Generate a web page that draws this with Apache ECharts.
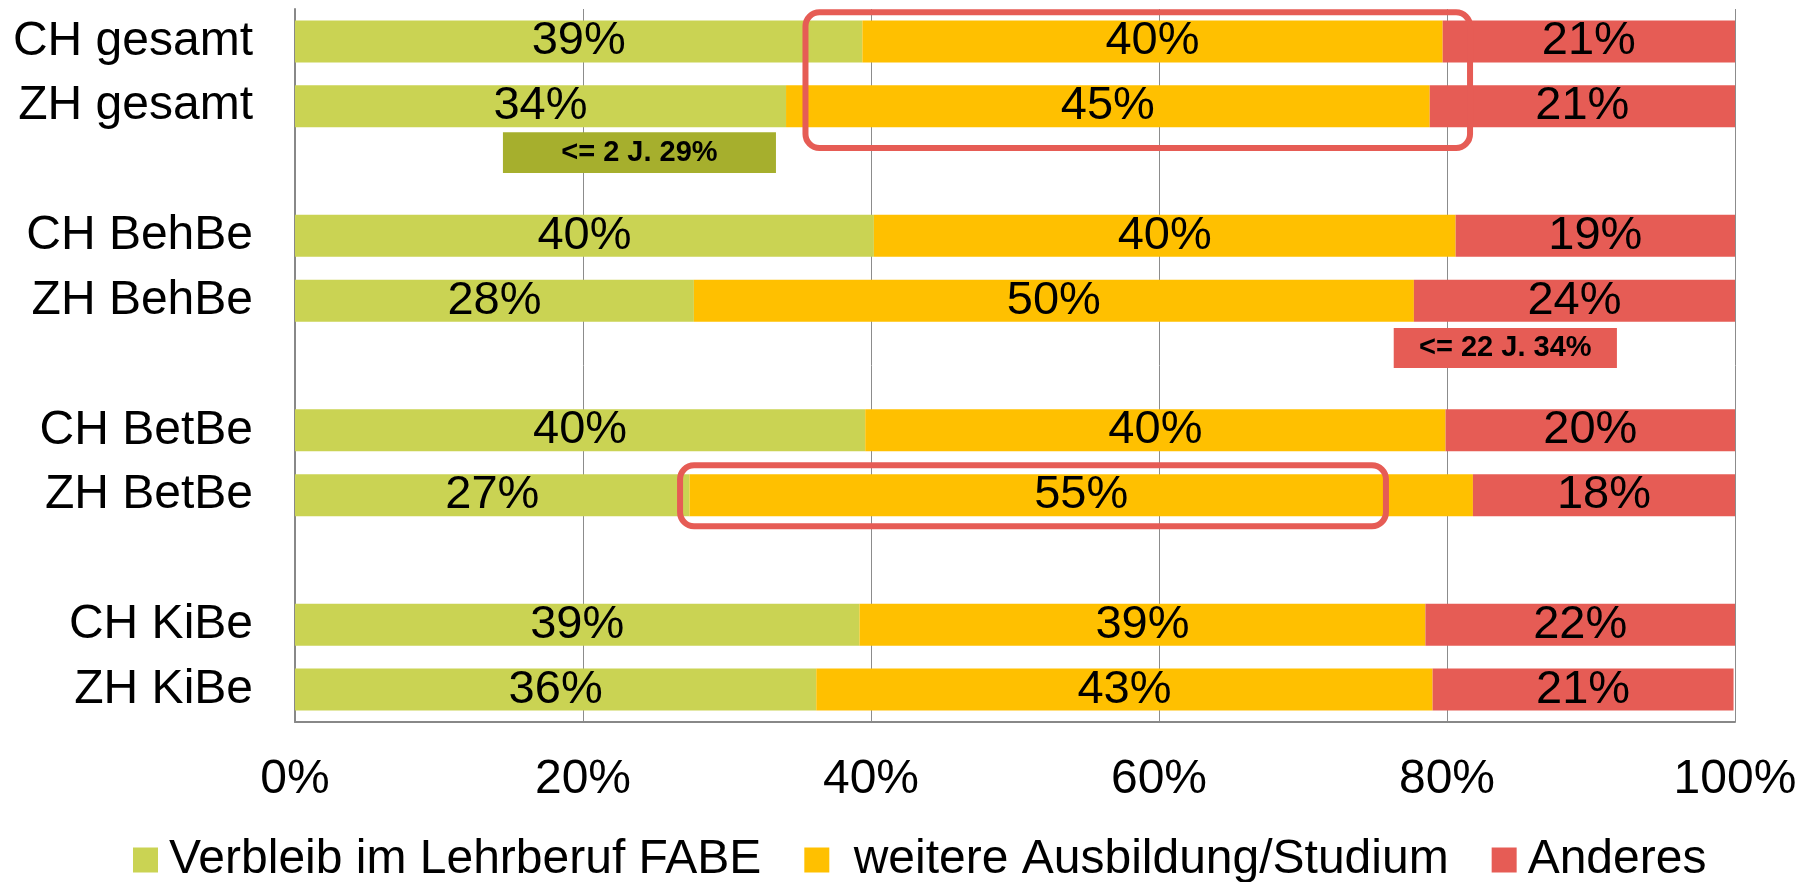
<!DOCTYPE html>
<html>
<head>
<meta charset="utf-8">
<script src="https://cdn.jsdelivr.net/npm/echarts@6/dist/echarts.min.js"></script>
<style>
  html, body { margin: 0; padding: 0; background: #fff; }
  #chart { width: 1807px; height: 882px; }
</style>
</head>
<body>
<div id="chart"></div>
<script>
// categories (blank entries are the gaps between groups)
var categories = ['CH gesamt', 'ZH gesamt', '', 'CH BehBe', 'ZH BehBe', '', 'CH BetBe', 'ZH BetBe', '', 'CH KiBe', 'ZH KiBe'];

var seriesNames = ['Verbleib im Lehrberuf FABE', ' weitere Ausbildung/Studium', 'Anderes'];

// bar lengths in %
var verbleib   = [39.4, 34.1, '-', 40.2, 27.7, '-', 39.6, 27.4, '-', 39.2, 36.2];
var ausbildung = [40.3, 44.7, '-', 40.4, 50.0, '-', 40.3, 54.4, '-', 39.3, 42.8];
var anderes    = [20.5, 21.2, '-', 19.4, 22.5, '-', 20.2, 18.2, '-', 21.5, 20.9];

// printed labels
var verbleibLabels   = ['39%', '34%', '', '40%', '28%', '', '40%', '27%', '', '39%', '36%'];
var ausbildungLabels = ['40%', '45%', '', '40%', '50%', '', '40%', '55%', '', '39%', '43%'];
var anderesLabels    = ['21%', '21%', '', '19%', '24%', '', '20%', '18%', '', '22%', '21%'];

var xTicks = [0, 20, 40, 60, 80, 100];

// annotations (x in %, y in category units)
var noteBoxes = [
    { text: '<= 2 J. 29%', x: [14.44, 33.4], y: [1.40, 2.03], color: '#A6AF2D' },
    { text: '<= 22 J. 34%', x: [76.3, 91.8], y: [4.42, 5.04], color: '#E65C55' }
];
var highlightBoxes = [
    { x: [35.45, 81.6], y: [-0.45, 1.645] },
    { x: [26.74, 75.76], y: [6.54, 7.48] }
];

var colors = ['#CAD353', '#FFC000', '#E65C55'];
var labelSets = [verbleibLabels, ausbildungLabels, anderesLabels];
var font = "'Liberation Sans', Arial, sans-serif";

var chart = echarts.init(document.getElementById('chart'));

function makeSeries(i, data) {
    return {
        name: seriesNames[i],
        type: 'bar',
        stack: 'total',
        barWidth: 42,
        data: data,
        itemStyle: { color: colors[i] },
        label: {
            show: true,
            position: 'inside',
            color: '#000',
            fontFamily: font,
            fontSize: 47,
            formatter: function (p) { return labelSets[i][p.dataIndex]; }
        }
    };
}

var option = {
    animation: false,
    backgroundColor: '#fff',
    color: colors,
    grid: { left: 295, right: 72, top: 9, bottom: 160 },
    legend: {
        left: 133,
        top: 836,
        padding: 0,
        icon: 'rect',
        itemWidth: 25,
        itemHeight: 25,
        itemGap: 43,
        data: seriesNames,
        textStyle: { fontFamily: font, fontSize: 48, color: '#000', padding: [0, 0, 0, 6] }
    },
    xAxis: {
        type: 'value',
        min: xTicks[0],
        max: xTicks[xTicks.length - 1],
        interval: 20,
        axisLine: { show: true, lineStyle: { color: '#888', width: 2 } },
        axisTick: { show: false },
        splitLine: { show: true, lineStyle: { color: '#8c8c8c', width: 1 } },
        axisLabel: {
            margin: 34,
            color: '#000',
            fontFamily: font,
            fontSize: 48,
            formatter: '{value}%'
        }
    },
    yAxis: {
        type: 'category',
        inverse: true,
        data: categories,
        axisLine: { show: true, lineStyle: { color: '#888', width: 2 } },
        axisTick: { show: false },
        axisLabel: { margin: 42, color: '#000', fontFamily: font, fontSize: 48 }
    },
    series: [
        makeSeries(0, verbleib),
        makeSeries(1, ausbildung),
        makeSeries(2, anderes)
    ]
};
chart.setOption(option);

// annotations placed through the axes
function xPix(v) { return chart.convertToPixel({ xAxisIndex: 0 }, v); }
function yPix(v) {
    var p0 = chart.convertToPixel({ yAxisIndex: 0 }, 0);
    var p1 = chart.convertToPixel({ yAxisIndex: 0 }, 1);
    return p0 + v * (p1 - p0);
}

var graphics = [];
noteBoxes.forEach(function (b) {
    var x1 = xPix(b.x[0]), x2 = xPix(b.x[1]), y1 = yPix(b.y[0]), y2 = yPix(b.y[1]);
    graphics.push({
        type: 'rect', z: 100,
        shape: { x: x1, y: y1, width: x2 - x1, height: y2 - y1 },
        style: { fill: b.color }
    });
    graphics.push({
        type: 'text', z: 101,
        x: (x1 + x2) / 2, y: (y1 + y2) / 2,
        style: {
            text: b.text, fill: '#000', align: 'center', verticalAlign: 'middle',
            font: 'bold 29px ' + font
        }
    });
});
highlightBoxes.forEach(function (b) {
    var x1 = xPix(b.x[0]), x2 = xPix(b.x[1]), y1 = yPix(b.y[0]), y2 = yPix(b.y[1]);
    graphics.push({
        type: 'rect', z: 102,
        shape: { x: x1, y: y1, width: x2 - x1, height: y2 - y1, r: 14 },
        style: { fill: 'none', stroke: '#E65C55', lineWidth: 6 }
    });
});
chart.setOption({ graphic: graphics });
</script>
</body>
</html>
